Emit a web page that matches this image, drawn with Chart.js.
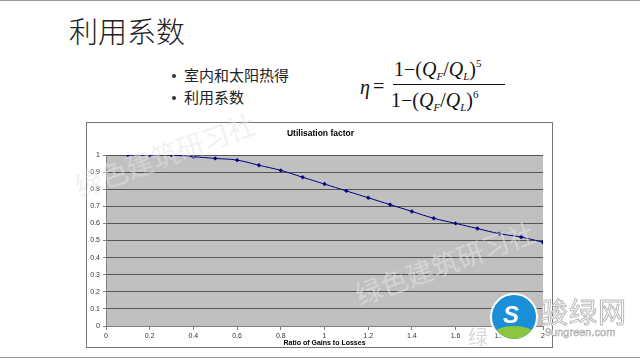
<!DOCTYPE html>
<html><head><meta charset="utf-8">
<script src="https://cdn.jsdelivr.net/npm/chart.js@4/dist/chart.umd.min.js"></script>
<style>
html,body{margin:0;padding:0;background:#fff;width:640px;height:360px;overflow:hidden;position:relative;font-family:"Liberation Sans",sans-serif}
#topline{position:absolute;left:0;top:0;width:640px;height:1px;background:#9a9a9a}
#botline{position:absolute;left:0;top:357px;width:640px;height:1px;background:#9a9a9a}
#title{position:absolute;left:69px;top:9px;font-family:"Noto Sans CJK SC";font-size:29px;color:#222;font-weight:300}
.bul{position:absolute;left:172px;font-family:"Noto Sans CJK SC";font-size:15px;color:#222}
.bul span{display:inline-block;width:4px;height:4px;border-radius:50%;background:#333;margin-right:8px;position:relative;top:-3px}
#formula{position:absolute;left:360px;top:57px;font-family:"Liberation Serif",serif;font-size:20px;color:#111}
#formula .eta{position:absolute;left:0;top:19px;font-style:italic}
#formula .eq{position:absolute;left:13px;top:18px}
#formula .num{position:absolute;left:34px;top:0;white-space:nowrap}
#formula .den{position:absolute;left:31px;top:31px;white-space:nowrap}
#formula .bar{position:absolute;left:33px;top:27px;width:112px;height:1px;background:#111}
#formula i{font-style:italic}
#formula sub{font-size:11px;vertical-align:-4px}
#formula sup{font-size:11px;vertical-align:9px}
#frame{position:absolute;left:86px;top:122px;width:467px;height:226px;border:1px solid #777;box-sizing:border-box;background:#fff}
#wrap{position:absolute;left:86px;top:122px;width:467px;height:226px}
.wm{position:absolute;font-family:"Noto Sans CJK SC";color:rgba(228,228,228,0.55);transform:rotate(-20deg);font-size:27px;white-space:nowrap;pointer-events:none}
#logo{position:absolute;left:490px;top:293px;width:44px;height:44px;border-radius:50%;background:#1a8fd8;border:2px solid #fff;overflow:hidden}
#logo .g{position:absolute;left:2px;top:31px;width:40px;height:15px;border-radius:50%;background:#8cc63f}
#logo .s{position:absolute;left:11px;top:6px;font-family:"Liberation Sans";font-size:24px;font-weight:bold;color:#fff;font-style:italic}
#lt{position:absolute;left:540px;top:291px;font-family:"Noto Sans CJK SC";font-size:28px;color:#fff;-webkit-text-stroke:1px #bbb;letter-spacing:1px}
#lu{position:absolute;left:545px;top:326px;font-family:"Liberation Sans";font-size:11px;color:#fff;-webkit-text-stroke:0.6px #aaa}
</style></head><body>
<div id="topline"></div><div id="botline"></div>
<div id="title">利用系数</div>
<div class="bul" style="top:64px"><span></span>室内和太阳热得</div>
<div class="bul" style="top:86px"><span></span>利用系数</div>
<div id="formula">
<div class="eta">η</div><div class="eq">=</div>
<div class="num">1−(<i>Q</i><sub><i>F</i></sub>/<i>Q</i><sub><i>L</i></sub>)<sup>5</sup></div>
<div class="bar"></div>
<div class="den">1−(<i>Q</i><sub><i>F</i></sub>/<i>Q</i><sub><i>L</i></sub>)<sup>6</sup></div>
</div>
<div id="frame"></div>
<div id="wrap"><canvas id="c" width="467" height="226"></canvas></div>
<div class="wm" style="left:70px;top:135px">绿色建筑研习社</div>
<div class="wm" style="left:350px;top:243px">绿色建筑研习社</div>
<div class="wm" style="left:468px;top:322px;transform:none;font-size:20px;color:rgba(200,200,200,0.7)">绿</div>
<div id="logo"><div class="g"></div><div class="s">S</div></div>
<div id="lt">骏绿网</div>
<div id="lu">9ungreen.com</div>
<script>
const ratios = [0.1,0.2,0.3,0.4,0.5,0.6,0.7,0.8,0.9,1.0,1.1,1.2,1.3,1.4,1.5,1.6,1.7,1.8,1.9,2.0];
const utilisation = [1.00,1.00,1.00,0.99,0.98,0.97,0.94,0.91,0.87,0.83,0.79,0.75,0.71,0.67,0.63,0.60,0.57,0.54,0.52,0.49];
const chartTitle = "Utilisation factor";
const xTitle = "Ratio of Gains to Losses";

const bgPlugin = {
  id:'bg',
  beforeDraw(chart){
    const {ctx, chartArea:a} = chart;
    ctx.save(); ctx.fillStyle='#c0c0c0';
    ctx.fillRect(a.left,a.top,a.right-a.left,a.bottom-a.top);
    ctx.restore();
  },
  afterDraw(chart){
    const ctx = chart.ctx;
    ctx.save();
    ctx.fillStyle='#000';
    ctx.font='bold 8.5px "Liberation Sans"';
    ctx.textAlign='center'; ctx.textBaseline='middle';
    ctx.fillText(chartTitle, chart.width/2+1, 11.5);
    ctx.restore();
  }
};

new Chart(document.getElementById('c'), {
  type:'line',
  data:{datasets:[{
    data: ratios.map((x,i)=>({x:x,y:utilisation[i]})),
    borderColor:'#000080', backgroundColor:'#000080',
    borderWidth:1, pointStyle:'rectRot', pointRadius:2.2, pointBorderWidth:0,
    tension:0.4, fill:false
  }]},
  options:{
    responsive:false, animation:false,
    layout:{padding:{left:0,right:10,top:33,bottom:1}},
    plugins:{
      legend:{display:false}, tooltip:{enabled:false}, title:{display:false}
    },
    scales:{
      x:{type:'linear',min:0,max:2,
        ticks:{stepSize:0.2,color:'#333',font:{family:'Liberation Sans',size:7},padding:2,maxRotation:0,
          callback:v=>String(Math.round(v*10)/10)},
        grid:{drawOnChartArea:false,drawTicks:true,tickLength:4,color:'#808080'},
        border:{color:'#808080'},
        title:{display:true,text:xTitle,color:'#000',font:{family:'Liberation Sans',size:7,weight:'bold'},padding:{top:0,bottom:0}},
        afterFit(s){s.height=21;}
      },
      y:{min:0,max:1,
        ticks:{stepSize:0.1,color:'#333',font:{family:'Liberation Sans',size:7},padding:3,
          callback:v=>String(Math.round(v*10)/10)},
        grid:{color:'#555',lineWidth:1,tickLength:3,tickColor:'#808080'},
        border:{color:'#808080'},
        afterFit(s){s.width=20;}
      }
    }
  },
  plugins:[bgPlugin]
});
</script>
</body></html>
